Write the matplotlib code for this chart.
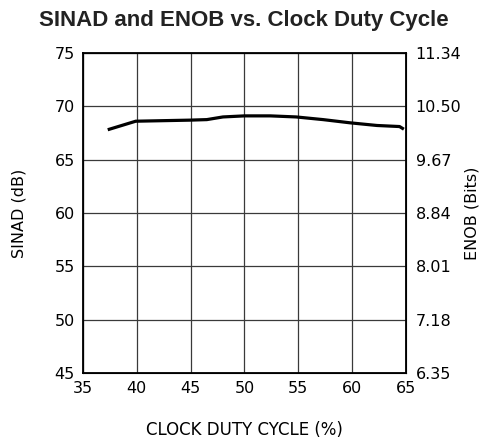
import matplotlib
matplotlib.use("Agg")
import matplotlib.pyplot as plt

# ── DATA ──────────────────────────────────────────────────────────────────────
duty_cycle = [37.3, 39.9, 44.9, 46.5, 48.0, 50.0, 52.4, 54.8, 57.3, 59.8, 62.3, 64.4, 64.8]
sinad_db   = [67.8, 68.6, 68.7, 68.75, 69.0, 69.1, 69.1, 69.0, 68.75, 68.45, 68.2, 68.1, 67.85]

x_ticks     = [35, 40, 45, 50, 55, 60, 65]
y_ticks     = [45, 50, 55, 60, 65, 70, 75]
enob_labels = ["6.35", "7.18", "8.01", "8.84", "9.67", "10.50", "11.34"]

# ── PLOT ──────────────────────────────────────────────────────────────────────
fig = plt.figure(figsize=(4.88, 4.45), dpi=100)
ax = fig.add_axes([0.170, 0.162, 0.662, 0.719])

ax.plot(duty_cycle, sinad_db, color="black", linewidth=2.3, solid_capstyle="butt")
ax.set_xlim(35, 65)
ax.set_ylim(45, 75)
ax.set_xticks(x_ticks)
ax.set_yticks(y_ticks)
ax.grid(color="#3a3a3a", linewidth=0.9)
ax.tick_params(length=0, labelsize=11.5, pad=6, colors="black")
for s in ax.spines.values():
    s.set_linewidth(1.3)

ax.set_xlabel("CLOCK DUTY CYCLE (%)", fontsize=12, labelpad=18)
ax.set_ylabel("SINAD (dB)", fontsize=11.5, labelpad=20)

ax2 = ax.twinx()
ax2.set_ylim(45, 75)
ax2.set_yticks(y_ticks)
ax2.set_yticklabels(enob_labels)
ax2.tick_params(length=0, labelsize=11.5, pad=7)
ax2.set_ylabel("ENOB (Bits)", fontsize=11.5, labelpad=2)

fig.suptitle("SINAD and ENOB vs. Clock Duty Cycle", x=0.5, y=0.978,
             fontsize=16, fontweight="bold", family="Liberation Sans", color="#222222")

fig.savefig("out.png", dpi=100)
